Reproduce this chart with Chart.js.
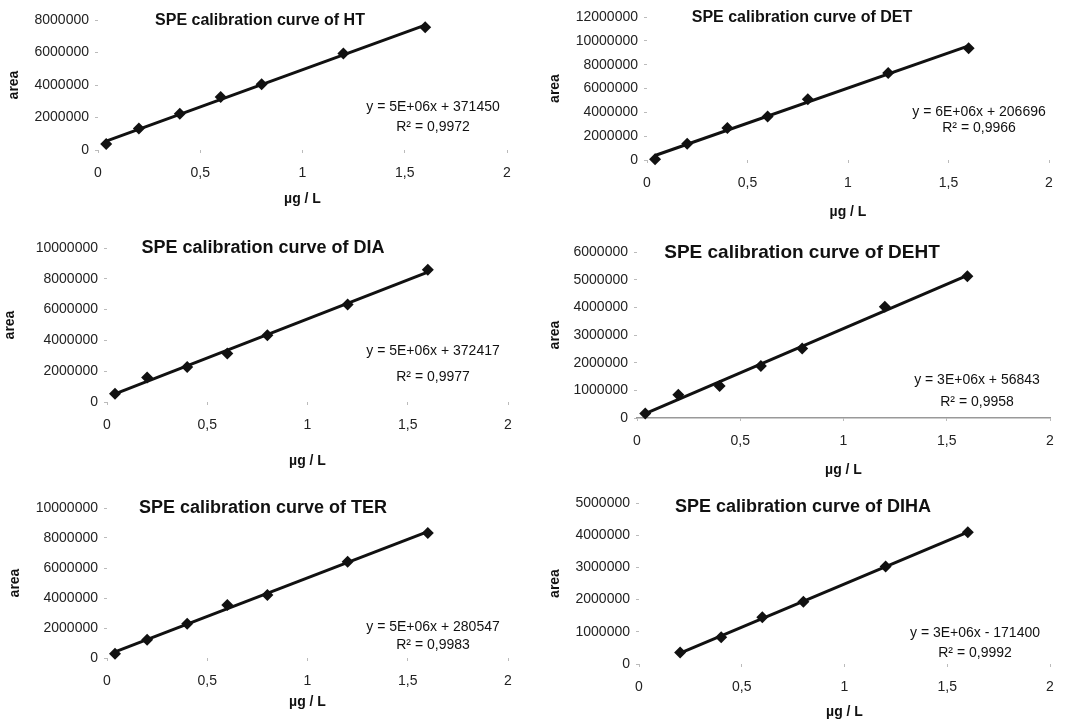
<!DOCTYPE html>
<html>
<head>
<meta charset="utf-8">
<script src="https://cdn.jsdelivr.net/npm/chart.js@4.4.1/dist/chart.umd.min.js"></script>
<style>
  html, body { margin: 0; padding: 0; background: #fff; overflow: hidden; }
  #page { position: relative; width: 1066px; height: 719px; }
  #page canvas { position: absolute; }
</style>
</head>
<body>
<div id="page"></div>
<script>
// concentrations (µg / L)
const concFull = [0.04, 0.2, 0.4, 0.6, 0.8, 1.2, 1.6];
const concDIHA = [0.2, 0.4, 0.6, 0.8, 1.2, 1.6];

// peak areas
const areaHT   = [370000, 1320000, 2230000, 3260000, 4040000, 5940000, 7550000];
const areaDET  = [60000, 1370000, 2690000, 3660000, 5090000, 7300000, 9370000];
const areaDIA  = [540000, 1590000, 2280000, 3150000, 4330000, 6330000, 8590000];
const areaDEHT = [160000, 840000, 1160000, 1880000, 2510000, 4020000, 5120000];
const areaTER  = [290000, 1220000, 2280000, 3540000, 4200000, 6420000, 8340000];
const areaDIHA = [360000, 830000, 1450000, 1930000, 3030000, 4090000];

// axis tick settings
const xTicks = { min: 0, max: 2, step: 0.5 };
const yMaxes  = { HT: 8000000, DET: 12000000, DIA: 10000000, DEHT: 6000000, TER: 10000000, DIHA: 5000000 };
const ySteps  = { HT: 2000000, DET: 2000000, DIA: 2000000, DEHT: 1000000, TER: 2000000, DIHA: 1000000 };

// trendline labels as printed
const eqLabels = {
  HT:   ['y = 5E+06x + 371450', 'R² = 0,9972'],
  DET:  ['y = 6E+06x + 206696', 'R² = 0,9966'],
  DIA:  ['y = 5E+06x + 372417', 'R² = 0,9977'],
  DEHT: ['y = 3E+06x + 56843', 'R² = 0,9958'],
  TER:  ['y = 5E+06x + 280547', 'R² = 0,9983'],
  DIHA: ['y = 3E+06x - 171400', 'R² = 0,9992'],
};

const FONT = "'Liberation Sans', Arial, sans-serif";

// least squares fit -> two endpoints of the trendline
function trend(xs, ys) {
  const n = xs.length;
  const mx = xs.reduce((a, b) => a + b, 0) / n;
  const my = ys.reduce((a, b) => a + b, 0) / n;
  let sxy = 0, sxx = 0;
  xs.forEach((x, i) => { sxy += (x - mx) * (ys[i] - my); sxx += (x - mx) * (x - mx); });
  const m = sxy / sxx, b = my - m * mx;
  const x0 = xs[0], x1 = xs[n - 1];
  return [{ x: x0, y: m * x0 + b }, { x: x1, y: m * x1 + b }];
}

// title + trendline equation drawn over the plot
const panelText = {
  id: 'panelText',
  afterDraw(chart, args, opts) {
    const ctx = chart.ctx;
    ctx.save();
    ctx.fillStyle = '#111';
    ctx.textAlign = 'center';
    ctx.textBaseline = 'middle';
    ctx.font = `bold ${opts.titleSize}px ${FONT}`;
    ctx.fillText(opts.title, opts.titlePos[0], opts.titlePos[1]);
    ctx.font = `14px ${FONT}`;
    ctx.fillText(opts.eq[0], opts.eqPos[0], opts.eqPos[1]);
    ctx.fillText(opts.eq[1], opts.eqPos[0], opts.eqPos[2]);
    ctx.restore();
  },
};

// box = canvas [left, top, width, height] on page; area = plot area in canvas coords [l, t, r, b]
const panels = [
  { key: 'HT', x: concFull, y: areaHT, box: [0, 0, 530, 215], area: [98, 20, 507, 150],
    titlePos: [260, 21], titleSize: 16, eqPos: [433, 107, 127], yTitlePad: 6 },
  { key: 'DET', x: concFull, y: areaDET, box: [530, 0, 536, 228], area: [117, 17, 519, 160],
    titlePos: [272, 18], titleSize: 16, eqPos: [449, 112, 128], yTitlePad: 17 },
  { key: 'DIA', x: concFull, y: areaDIA, box: [0, 225, 530, 252], area: [107, 23, 508, 177],
    titlePos: [263, 23], titleSize: 18, eqPos: [433, 126, 152], yTitlePad: 2 },
  { key: 'DEHT', x: concFull, y: areaDEHT, box: [530, 225, 536, 261], area: [107, 27, 520, 193],
    titlePos: [272, 28], titleSize: 19, eqPos: [447, 155, 177], yTitlePad: 17, xLine: true },
  { key: 'TER', x: concFull, y: areaTER, box: [0, 480, 530, 238], area: [107, 28, 508, 178],
    titlePos: [263, 28], titleSize: 18, eqPos: [433, 147, 165], yTitlePad: 7 },
  { key: 'DIHA', x: concDIHA, y: areaDIHA, box: [530, 480, 536, 248], area: [109, 23, 520, 184],
    titlePos: [273, 27], titleSize: 18, eqPos: [445, 153, 173], yTitlePad: 17 },
];

const page = document.getElementById('page');

panels.forEach(p => {
  const [cx, cy, cw, ch] = p.box;
  const [aL, aT, aR, aB] = p.area;
  const canvas = document.createElement('canvas');
  canvas.width = cw;
  canvas.height = ch;
  canvas.style.left = cx + 'px';
  canvas.style.top = cy + 'px';
  page.appendChild(canvas);

  const tickFont = { family: FONT, size: 14 };
  const titleFont = { family: FONT, size: 14, weight: 'bold' };

  new Chart(canvas.getContext('2d'), {
    type: 'scatter',
    data: {
      datasets: [
        {
          data: p.x.map((x, i) => ({ x, y: p.y[i] })),
          showLine: false,
          clip: false,
          pointStyle: 'rectRot',
          pointRadius: 6,
          backgroundColor: '#111',
          borderColor: '#111',
          borderWidth: 0,
        },
        {
          data: trend(p.x, p.y),
          showLine: true,
          clip: false,
          borderColor: '#111',
          borderWidth: 3,
          pointRadius: 0,
          tension: 0,
        },
      ],
    },
    options: {
      responsive: false,
      animation: false,
      events: [],
      layout: { padding: { left: 0, top: aT, right: cw - aR, bottom: 0 } },
      plugins: {
        legend: { display: false },
        tooltip: { enabled: false },
        panelText: {
          title: 'SPE calibration curve of ' + p.key,
          titlePos: p.titlePos,
          titleSize: p.titleSize,
          eq: eqLabels[p.key],
          eqPos: p.eqPos,
        },
      },
      scales: {
        x: {
          type: 'linear',
          min: xTicks.min,
          max: xTicks.max,
          afterFit: s => { s.height = ch - aB; },
          border: { display: !!p.xLine, color: '#999', width: 1.5 },
          grid: { drawOnChartArea: false, tickLength: 3, color: '#bbb' },
          ticks: {
            stepSize: xTicks.step,
            padding: 12,
            color: '#222',
            font: tickFont,
            callback: v => String(v).replace('.', ','),
          },
          title: { display: true, text: 'µg / L', color: '#111', font: titleFont, padding: { top: 0, bottom: 7 } },
        },
        y: {
          type: 'linear',
          min: 0,
          max: yMaxes[p.key],
          afterFit: s => { s.width = aL; },
          border: { display: false },
          grid: { drawOnChartArea: false, tickLength: 3, color: '#bbb' },
          ticks: {
            stepSize: ySteps[p.key],
            padding: 6,
            color: '#222',
            font: tickFont,
            callback: v => String(v),
          },
          title: { display: true, text: 'area', color: '#111', font: titleFont, padding: { top: p.yTitlePad, bottom: 0 } },
        },
      },
    },
    plugins: [panelText],
  });
});
</script>
</body>
</html>
